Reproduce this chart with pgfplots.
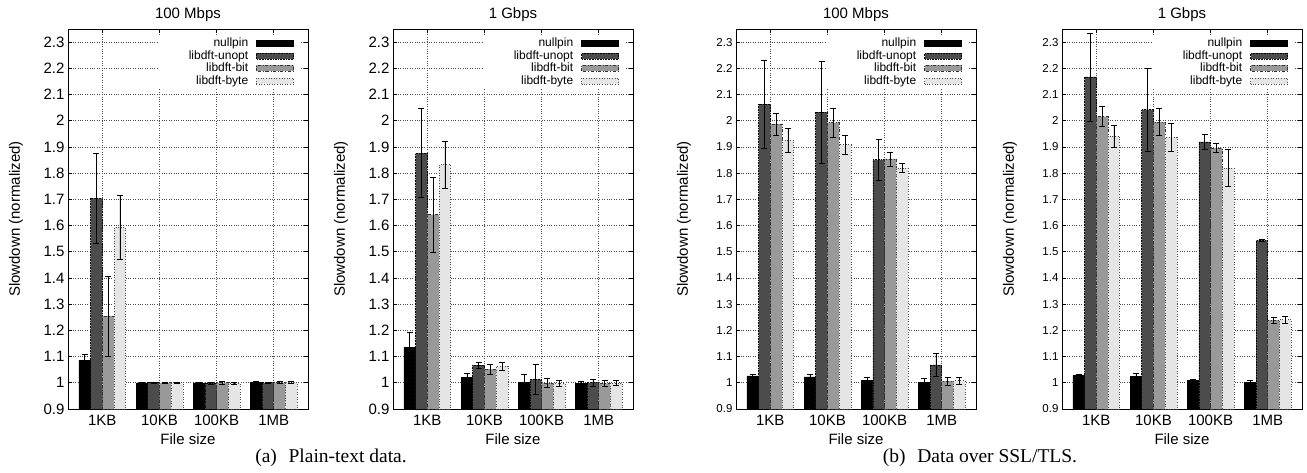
\documentclass[border=0pt]{standalone}
\usepackage{fontspec}
\setmainfont{Liberation Serif}
\newfontfamily\hv{Liberation Sans}
\usepackage{pgfplots}
\pgfplotsset{compat=1.18}

\definecolor{cUn}{gray}{0.30}
\definecolor{cBit}{gray}{0.60}
\definecolor{cByte}{gray}{0.90}

\newcommand{\axfont}{\hv\fontsize{15}{17}\selectfont}

\pgfplotsset{
  panel/.style={
    scale only axis, width=240pt, height=380pt, anchor=south west,
    xmin=-0.6, xmax=3.6, ymin=0.9, ymax=2.35, enlargelimits=false,
    ybar=0pt, bar width=0.205,
    xtick={0,1,2,3}, xticklabels={1KB,10KB,100KB,1MB},
    ytick={0.9,1,1.1,1.2,1.3,1.4,1.5,1.6,1.7,1.8,1.9,2,2.1,2.2,2.3},
    /pgf/number format/assume math mode=true,
    tick align=inside, major tick length=4pt,
    tick style={black, line width=0.6pt},
    axis line style={line width=0.8pt},
    grid=major, major grid style={dotted, black!70, line width=0.6pt},
    tick label style={font=\axfont},
    xticklabel style={yshift=-2.5pt},
    xlabel={File size}, xlabel style={font=\axfont, yshift=-1pt},
    ylabel={Slowdown (normalized)},
    ylabel style={font=\axfont, at={(axis description cs:-0.2167,0.5)}, anchor=center},
    title style={font=\axfont, yshift=-2pt},
    legend plot pos=right,
    legend cell align=right,
    legend style={at={(1,1)}, anchor=north east, xshift=-7pt, yshift=-7pt,
      draw=none, fill=white, inner xsep=7pt, inner ysep=1pt,
      font=\hv\fontsize{12}{13}\selectfont,
      /tikz/every odd column/.append style={column sep=7pt},
      nodes={inner sep=1pt, text height=8.5pt, text depth=2pt,
             text width=82pt, align=right}},
  },
  barleg/.style={legend image code/.code={
      \draw[##1] (0pt,-3pt) rectangle (37pt,3pt);}},
  eb/.style={error bars/.cd, y dir=both, y explicit,
      error bar style={solid, black, line width=0.6pt},
      error mark options={solid, black, rotate=90, mark size=3pt, line width=0.6pt}},
  sNull/.style={fill=black, draw=black, line width=0.5pt, barleg, eb},
  sUn/.style={fill=cUn, draw=black, densely dotted, line width=0.6pt, barleg, eb},
  sBit/.style={fill=cBit, draw=black!80, dash dot, line width=0.6pt, barleg, eb},
  sByte/.style={fill=cByte, draw=black!70, dotted, line width=0.6pt, barleg, eb},
}

\begin{document}
\begin{tikzpicture}[font=\axfont]
\useasboundingbox (0pt,-63pt) rectangle (1307pt,409pt);

% (a) plain-text, 100 Mbps
\begin{axis}[panel, at={(68pt,0pt)}, title={100 Mbps}]
\addplot[sNull] coordinates {(0,1.085) +- (0,0.025) (1,1.000) +- (0,0.003) (2,1.000) +- (0,0.003) (3,1.001) +- (0,0.003)};
\addplot[sUn]   coordinates {(0,1.704) +- (0,0.170) (1,1.000) +- (0,0.003) (2,0.999) +- (0,0.003) (3,1.000) +- (0,0.003)};
\addplot[sBit]  coordinates {(0,1.254) +- (0,0.153) (1,1.000) +- (0,0.003) (2,1.000) +- (0,0.004) (3,1.001) +- (0,0.003)};
\addplot[sByte] coordinates {(0,1.593) +- (0,0.123) (1,1.000) +- (0,0.003) (2,0.998) +- (0,0.002) (3,1.001) +- (0,0.003)};
\legend{nullpin,libdft-unopt,libdft-bit,libdft-byte}
\end{axis}

% (a) plain-text, 1 Gbps
\begin{axis}[panel, at={(393pt,0pt)}, title={1 Gbps}]
\addplot[sNull] coordinates {(0,1.136) +- (0,0.058) (1,1.020) +- (0,0.015) (2,1.002) +- (0,0.030) (3,0.999) +- (0,0.006)};
\addplot[sUn]   coordinates {(0,1.876) +- (0,0.170) (1,1.067) +- (0,0.013) (2,1.013) +- (0,0.056) (3,1.000) +- (0,0.013)};
\addplot[sBit]  coordinates {(0,1.642) +- (0,0.143) (1,1.052) +- (0,0.020) (2,0.999) +- (0,0.018) (3,0.998) +- (0,0.010)};
\addplot[sByte] coordinates {(0,1.832) +- (0,0.090) (1,1.064) +- (0,0.015) (2,0.998) +- (0,0.010) (3,0.999) +- (0,0.010)};
\legend{nullpin,libdft-unopt,libdft-bit,libdft-byte}
\end{axis}

% (b) SSL/TLS, 100 Mbps
\begin{axis}[panel, at={(736pt,0pt)}, title={100 Mbps},
  yticklabel style={font=\hv\fontsize{11.5}{13}\selectfont}]
\addplot[sNull] coordinates {(0,1.026) +- (0,0.008) (1,1.023) +- (0,0.008) (2,1.008) +- (0,0.012) (3,1.002) +- (0,0.016)};
\addplot[sUn]   coordinates {(0,2.063) +- (0,0.167) (1,2.033) +- (0,0.195) (2,1.851) +- (0,0.077) (3,1.068) +- (0,0.044)};
\addplot[sBit]  coordinates {(0,1.988) +- (0,0.042) (1,1.993) +- (0,0.055) (2,1.854) +- (0,0.027) (3,1.006) +- (0,0.015)};
\addplot[sByte] coordinates {(0,1.925) +- (0,0.047) (1,1.909) +- (0,0.036) (2,1.820) +- (0,0.016) (3,1.008) +- (0,0.013)};
\legend{nullpin,libdft-unopt,libdft-bit,libdft-byte}
\end{axis}

% (b) SSL/TLS, 1 Gbps
\begin{axis}[panel, at={(1062pt,0pt)}, title={1 Gbps},
  yticklabel style={font=\hv\fontsize{11.5}{13}\selectfont}]
\addplot[sNull] coordinates {(0,1.028) +- (0,0.005) (1,1.025) +- (0,0.012) (2,1.009) +- (0,0.005) (3,1.003) +- (0,0.007)};
\addplot[sUn]   coordinates {(0,2.167) +- (0,0.168) (1,2.042) +- (0,0.157) (2,1.919) +- (0,0.029) (3,1.543) +- (0,0.004)};
\addplot[sBit]  coordinates {(0,2.016) +- (0,0.038) (1,1.995) +- (0,0.051) (2,1.896) +- (0,0.018) (3,1.239) +- (0,0.012)};
\addplot[sByte] coordinates {(0,1.941) +- (0,0.043) (1,1.937) +- (0,0.053) (2,1.820) +- (0,0.070) (3,1.241) +- (0,0.013)};
\legend{nullpin,libdft-unopt,libdft-bit,libdft-byte}
\end{axis}

\node[font=\rmfamily\fontsize{19.5}{21}\selectfont, anchor=base] at (331pt,-53pt) {(a)\hspace{0.6em}Plain-text data.};
\node[font=\rmfamily\fontsize{19.5}{21}\selectfont, anchor=base] at (980pt,-53pt) {(b)\hspace{0.6em}Data over SSL/TLS.};
\end{tikzpicture}
\end{document}
